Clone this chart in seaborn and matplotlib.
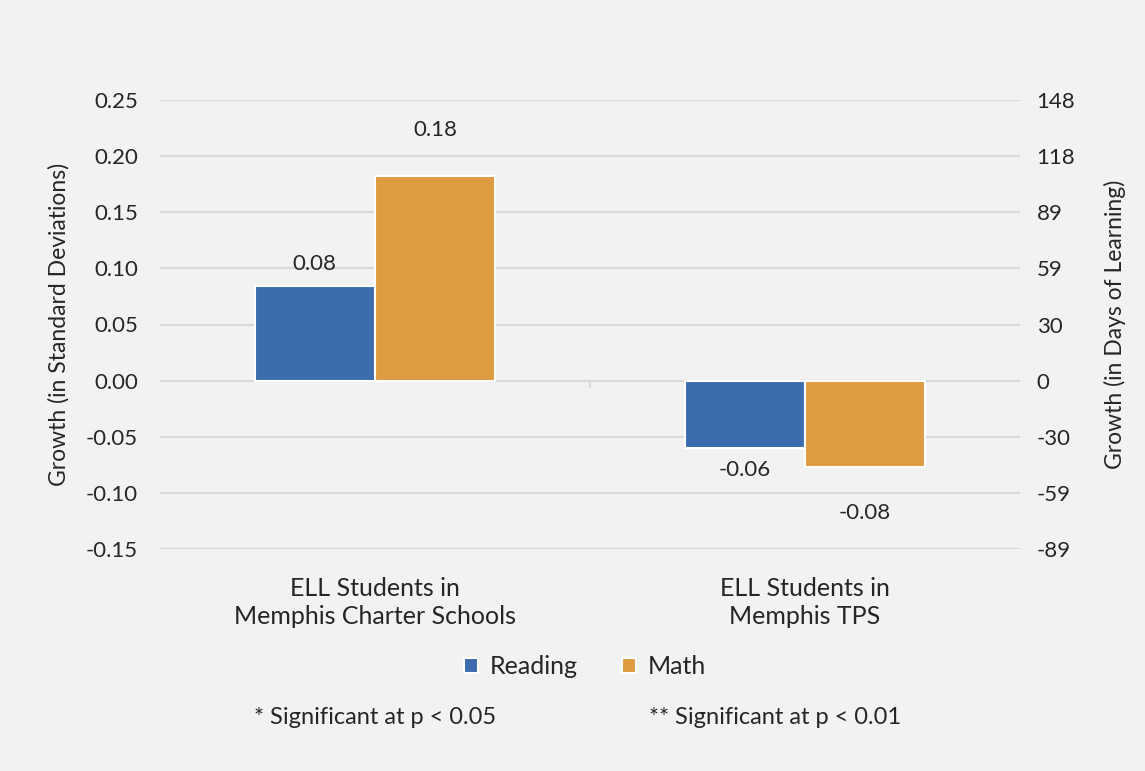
import matplotlib.pyplot as plt
import numpy as np
import pandas as pd
import seaborn as sns

groups = ['ELL Students in\nMemphis Charter Schools', 'ELL Students in\nMemphis TPS']
subjects = ['Reading', 'Math']
reading = [0.084, -0.060]
math = [0.182, -0.077]
sd_ticks = [-0.15, -0.10, -0.05, 0.00, 0.05, 0.10, 0.15, 0.20, 0.25]
day_ticks = [-89, -59, -30, 0, 30, 59, 89, 118, 148]
notes = ['* Significant at p < 0.05', '** Significant at p < 0.01']

df = pd.DataFrame({
    'group': groups * 2,
    'subject': ['Reading'] * 2 + ['Math'] * 2,
    'growth': reading + math,
})

sns.set_style('white')
plt.rcParams['font.family'] = ['Lato', 'DejaVu Sans']
text_color = '#262626'
grid_color = '#D9D9D9'

fig = plt.figure(figsize=(11.45, 7.71), dpi=100, facecolor='#F2F2F2')
ax = fig.add_axes([160 / 1145, 1 - 549 / 771, 860 / 1145, 449 / 771])
ax.set_facecolor('#F2F2F2')

# bars
sns.barplot(data=df, x='group', y='growth', hue='subject', hue_order=subjects,
            palette=['#3C6CAE', '#DF9B40'], saturation=1, width=0.56,
            edgecolor='white', linewidth=1.5, ax=ax, zorder=3)

# label offsets as in the original (math labels sit further out)
for cont, pad in zip(ax.containers, [9, 26]):
    ax.bar_label(cont, fmt='%.2f', padding=pad, fontsize=16, color=text_color)

ax.set_ylim(-0.15, 0.25)
ax.set_xlim(-0.5, 1.5)
ax.set_yticks(sd_ticks)
ax.set_yticklabels([f'{v:.2f}' for v in sd_ticks])
ax.yaxis.grid(True, color=grid_color, linewidth=1.6, zorder=0)
ax.set_axisbelow(True)
for s in ax.spines.values():
    s.set_visible(False)

# small separator tick under the zero line
zero_frac = (0 - ax.get_ylim()[0]) / (ax.get_ylim()[1] - ax.get_ylim()[0])
ax.axvline(0.5, ymin=zero_frac - 0.015, ymax=zero_frac, color=grid_color, linewidth=1.6)

ax.tick_params(axis='y', length=0, pad=16, labelsize=16, labelcolor=text_color)
ax.tick_params(axis='x', length=0, pad=20, labelsize=18, labelcolor=text_color)
for lbl in ax.get_xticklabels():
    lbl.set_linespacing(1.3)
ax.set_xlabel('')
ax.set_ylabel('Growth (in Standard Deviations)', fontsize=16.5, color=text_color)
ax.yaxis.set_label_coords(-0.105, 0.5)

# secondary axis in days of learning
ax2 = ax.twinx()
ax2.set_ylim(ax.get_ylim())
ax2.set_yticks(sd_ticks)
ax2.set_yticklabels([str(d) for d in day_ticks])
ax2.tick_params(axis='y', length=0, pad=12, labelsize=16, labelcolor=text_color)
for s in ax2.spines.values():
    s.set_visible(False)
ax2.set_ylabel('Growth (in Days of Learning)', fontsize=16.5, color=text_color, rotation=90)
ax2.yaxis.set_label_coords(1.098, 0.5)

# legend
handles, labels = ax.get_legend_handles_labels()
ax.legend_.remove()
fig.legend(handles, labels, loc='center', bbox_to_anchor=(0.511, 0.135), ncol=2,
           frameon=False, fontsize=18, handlelength=0.55, handleheight=0.55,
           handletextpad=0.45, columnspacing=1.8, labelcolor=text_color)

fig.text(0.328, 0.069, notes[0], ha='center', va='center', fontsize=17, color=text_color)
fig.text(0.677, 0.069, notes[1], ha='center', va='center', fontsize=17, color=text_color)

fig.savefig('out.png', dpi=100, facecolor=fig.get_facecolor())
